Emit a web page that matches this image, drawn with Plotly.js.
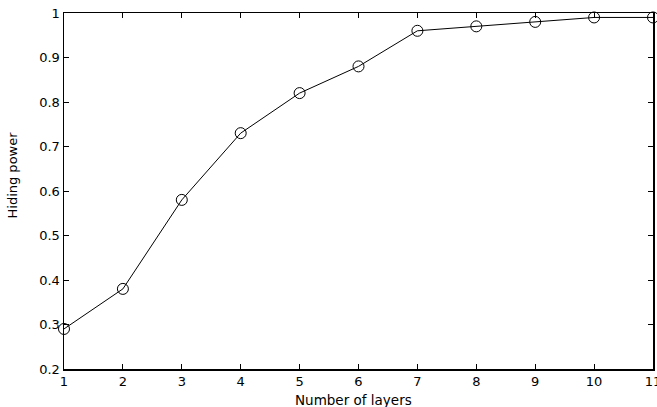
<!DOCTYPE html>
<html>
<head>
<meta charset="utf-8">
<script src="https://cdn.plot.ly/plotly-3.0.1.min.js"></script>
<style>html,body{margin:0;padding:0;background:#fff;}#chart{width:657px;height:407px;}</style>
</head>
<body>
<div id="chart"></div>
<script>
const layers = [1, 2, 3, 4, 5, 6, 7, 8, 9, 10, 11];
const hidingPower = [0.29, 0.38, 0.58, 0.73, 0.82, 0.88, 0.96, 0.97, 0.98, 0.99, 0.99];
const xTicks = [1, 2, 3, 4, 5, 6, 7, 8, 9, 10, 11];
const yTicks = [0.2, 0.3, 0.4, 0.5, 0.6, 0.7, 0.8, 0.9, 1];
const yTickText = ['0.2', '0.3', '0.4', '0.5', '0.6', '0.7', '0.8', '0.9', '1'];
const xTitle = 'Number of layers';
const yTitle = 'Hiding power';

const FONT = 'DejaVu Sans, Verdana, sans-serif';

const trace = {
  x: layers,
  y: hidingPower,
  type: 'scatter',
  mode: 'lines+markers',
  line: {color: '#000', width: 1},
  marker: {symbol: 'circle-open', size: 11, color: '#000', line: {width: 1}},
  cliponaxis: false
};

const axisBase = {
  showline: true, linecolor: '#000', linewidth: 1.5, mirror: 'ticks',
  ticks: 'inside', ticklen: 5, tickcolor: '#000', tickwidth: 1,
  showgrid: false, zeroline: false, ticklabeloverflow: 'allow',
  tickfont: {family: FONT, size: 13, color: '#000'}
};

const layout = {
  width: 657, height: 407,
  margin: {l: 64, r: 4, t: 13, b: 38},
  paper_bgcolor: '#fff', plot_bgcolor: '#fff',
  showlegend: false,
  xaxis: Object.assign({}, axisBase, {range: [1, 11], tickvals: xTicks, ticklabelstandoff: 0}),
  yaxis: Object.assign({}, axisBase, {range: [0.2, 1], tickvals: yTicks, ticktext: yTickText}),
  annotations: [
    {text: xTitle, xref: 'paper', yref: 'paper', x: 0.492, y: -0.086,
     xanchor: 'center', yanchor: 'middle', showarrow: false,
     font: {family: FONT, size: 13.5, color: '#000'}},
    {text: yTitle, xref: 'paper', yref: 'paper', x: -0.0874, y: 0.545, textangle: -90,
     xanchor: 'center', yanchor: 'middle', showarrow: false,
     font: {family: FONT, size: 13, color: '#000'}}
  ]
};

Plotly.newPlot('chart', [trace], layout, {displayModeBar: false, staticPlot: true});
</script>
</body>
</html>
